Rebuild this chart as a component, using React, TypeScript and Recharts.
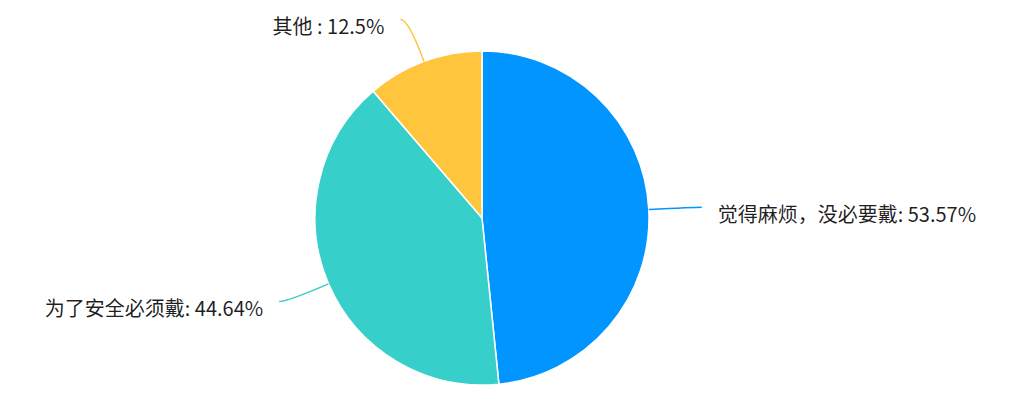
import { Cell, Pie, PieChart } from "recharts";

const names = ["觉得麻烦，没必要戴", "为了安全必须戴", "其他 "];
const values = [53.57, 44.64, 12.5];
const colors = ["#0095ff", "#36cfc9", "#ffc53d"];

const data = names.map((name, i) => ({ name, value: values[i] }));

const RAD = Math.PI / 180;

function polar(cx: number, cy: number, r: number, angle: number) {
  return { x: cx + r * Math.cos(-angle * RAD), y: cy + r * Math.sin(-angle * RAD) };
}

function renderLabel(props: any) {
  const { cx, cy, midAngle, outerRadius, index, name, value } = props;
  const p0 = polar(cx, cy, outerRadius, midAngle);
  const p1 = polar(cx, cy, outerRadius + 45, midAngle);
  const right = p1.x >= cx;
  const p2 = { x: p1.x + (right ? 8 : -8), y: p1.y };
  const tx = p2.x + (right ? 16 : -16);
  return (
    <g>
      <path
        d={`M${p0.x},${p0.y} Q${p1.x},${p1.y} ${p2.x},${p2.y}`}
        stroke={colors[index]}
        strokeWidth={1.5}
        fill="none"
      />
      <text
        x={tx}
        y={p2.y + 6}
        textAnchor={right ? "start" : "end"}
        dominantBaseline="central"
        fill="rgba(0,0,0,0.88)"
        fontSize={20}
        fontFamily="'Noto Sans CJK SC', 'Noto Sans', sans-serif"
      >
        {`${name}: ${value}%`}
      </text>
    </g>
  );
}

export default function App() {
  return (
    <div style={{ position: "fixed", left: 0, top: 0, width: 1015, height: 409, background: "#fff" }}>
      <PieChart width={1015} height={409} margin={{ top: 0, right: 0, bottom: 0, left: 0 }}>
        <Pie
          data={data}
          dataKey="value"
          nameKey="name"
          cx={482}
          cy={218}
          outerRadius={167}
          startAngle={90}
          endAngle={-270}
          stroke="#fff"
          strokeWidth={1.5}
          label={renderLabel}
          labelLine={false}
          isAnimationActive={false}
        >
          {data.map((d, i) => (
            <Cell key={d.name} fill={colors[i]} />
          ))}
        </Pie>
      </PieChart>
    </div>
  );
}
